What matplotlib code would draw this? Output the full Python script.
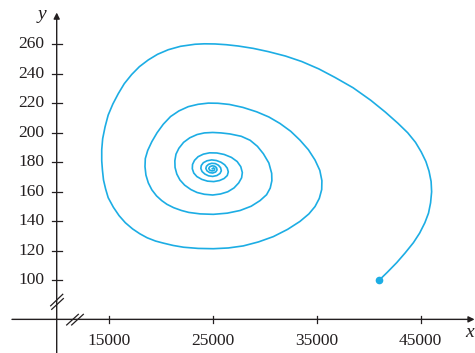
import matplotlib
matplotlib.use("Agg")
import matplotlib.pyplot as plt

# Trayectoria (x, y), en orden desde el punto inicial
x_vals = [41000, 41800, 42700, 43500, 44300, 44900, 45400, 45750, 45950, 46050,
          46000, 45800, 45500, 45050, 44500, 43750, 42800, 41600, 40200, 38500,
          36760, 35200, 33560, 32000, 30350, 28900, 27460, 26300, 25220, 24200,
          23300, 21900, 20730, 19700, 18810, 17950, 17210, 16500, 15920, 15400,
          14950, 14650, 14420, 14330, 14330, 14400, 14500, 14700, 14950, 15450,
          16000, 16600, 17300, 18000, 18700, 19500, 20250, 21200, 22200, 23600,
          25060, 26500, 27940, 29400, 30830, 32200, 33390, 34250, 34840, 35250,
          35480,
          35500, 35300, 34840, 34200, 33390, 32500, 31470, 30400, 29230, 27900,
          26600, 25500, 24580, 23600, 22650, 21750, 20950, 20250, 19650, 19150,
          18750, 18520, 18490, 18580, 18810, 19150, 19600, 20100, 20600, 21250,
          22000, 22700, 23800, 25060, 26400, 27630, 28700, 29550, 30180, 30530,
          30690, 30670,
          30400, 29870, 29300, 28600, 27750, 26660, 25800, 25000, 24200, 23500,
          22800, 22200, 21750, 21470, 21360, 21380, 21550, 21850, 22300, 22900,
          23500, 24200, 25000, 25750, 26450, 27050, 27500, 27780, 27850,
          27700, 27350, 26800, 26100, 25400, 24700, 24100, 23600, 23250, 23060,
          23040, 23180, 23480, 23950, 24500, 25100, 25650, 26100, 26400, 26500,
          26400, 26150, 25800, 25350, 24900, 24450, 24100, 23900, 23860, 23980,
          24250, 24600, 25000, 25400, 25700, 25830,
          25760, 25550, 25250, 24900, 24600, 24400, 24340, 24450, 24700, 25000,
          25280, 25420,
          25370, 25200, 24950, 24720, 24620, 24720, 24950, 25150, 25200, 25080,
          24960]
y_vals = [100, 105.5, 112, 118.5, 125.5, 132, 139, 145.5, 152.5, 160,
          167, 174, 180.5, 187, 193.5, 200, 206.5, 214, 222, 230.5,
          237.5, 243.3, 248.3, 252, 255, 257.2, 258.8, 259.7, 260.2, 260.3,
          260, 258.6, 256.3, 253.2, 249.4, 244.8, 239.5, 233.3, 226.5, 219.5,
          212, 204, 196, 188.5, 181, 174.5, 168, 162, 156, 149.5,
          143.8, 139, 134.8, 131.5, 128.8, 126.6, 125.2, 123.6, 122.4, 121.6,
          121.4, 121.9, 123.3, 126, 129.6, 134.5, 139.9, 145, 150, 155.5,
          161.5,
          167.5, 174.5, 181.5, 188.5, 195, 201, 206.3, 210.7, 214.2, 217.2,
          219.2, 220, 220.1, 219.3, 217.7, 214.8, 211, 205.8, 200, 194,
          188, 182.5, 177, 171.3, 166, 161.3, 157.2, 154, 151.5, 149.2,
          147.3, 146, 145, 144.7, 145.5, 147.3, 150.2, 154, 158, 162.5,
          167.5, 172.5,
          179.5, 185.8, 190.8, 194.9, 197.6, 199.2, 199.9, 200.2, 199.9, 198.8,
          196.6, 193.5, 189.5, 185.5, 181, 176.5, 172, 168, 164.5, 161.5,
          159.5, 158.3, 157.8, 158.5, 160, 162.6, 166, 169.5, 173,
          177, 180.5, 183.3, 185.3, 186.3, 186.4, 185.5, 183.8, 181.3, 178.5,
          175.6, 172.7, 170.3, 168.4, 167.2, 166.9, 167.6, 169, 171, 173.5,
          176, 178.3, 180, 181.2, 181.6, 181, 179.7, 177.8, 175.8, 173.7,
          172, 170.8, 170.4, 171, 172.4, 174.2,
          176.3, 178, 179.1, 179.3, 178.6, 177.3, 175.8, 174.2, 173, 172.7,
          173.4, 174.8,
          176.3, 177.3, 177.6, 177, 175.8, 174.6, 174.1, 174.6, 175.5, 176.2,
          175.6]

x_ticks = [15000, 25000, 35000, 45000]
y_ticks = [100, 120, 140, 160, 180, 200, 220, 240, 260]

azul = "#1cade4"
gris = "#231f20"
fuente = "Liberation Serif"

fig = plt.figure(figsize=(4.75, 3.53), dpi=100)
ax = fig.add_axes([0, 0, 1, 1])
ax.set_xlim(4548, 50221)
ax.set_ylim(50.7, 290.0)
ax.axis("off")

x0 = 10000   # posicion del eje y
y0 = 73.5    # posicion del eje x

# ejes con flecha
ax.annotate("", xy=(50180, y0), xytext=(5700, y0),
            arrowprops=dict(arrowstyle="-|>", lw=1.0, color=gris, mutation_scale=9, shrinkA=0, shrinkB=0))
ax.annotate("", xy=(x0, 281.5), xytext=(x0, 50.7),
            arrowprops=dict(arrowstyle="-|>", lw=1.0, color=gris, mutation_scale=9, shrinkA=0, shrinkB=0))

# cortes //
ax.plot([9420, 10580], [82.7, 90.5], color=gris, lw=0.9)
ax.plot([9520, 10640], [80.3, 87.6], color=gris, lw=0.9)
ax.plot([10960, 12080], [69.7, 76.9], color=gris, lw=0.9)
ax.plot([11440, 12560], [69.7, 76.9], color=gris, lw=0.9)

for t in x_ticks:
    ax.plot([t, t], [y0 - 2.6, y0 + 2.6], color=gris, lw=0.9)
    ax.text(t, y0 - 14.5, str(t), ha="center", va="center", fontsize=12.5,
            family=fuente, color=gris)
for t in y_ticks:
    ax.plot([x0 - 480, x0 + 480], [t, t], color=gris, lw=0.9)
    ax.text(x0 - 1150, t, str(t), ha="right", va="center", fontsize=12.5,
            family=fuente, color=gris)

ax.text(8550, 280, "y", ha="center", va="center", fontsize=14, style="italic",
        family=fuente, color=gris)
ax.text(50100, 64.5, "x", ha="right", va="center", fontsize=14, style="italic",
        family=fuente, color=gris)

ax.plot(x_vals, y_vals, color=azul, lw=1.2, solid_joinstyle="round")
ax.plot(x_vals[0], y_vals[0], "o", color=azul, markersize=4.5)

fig.savefig("out.png", dpi=100)
